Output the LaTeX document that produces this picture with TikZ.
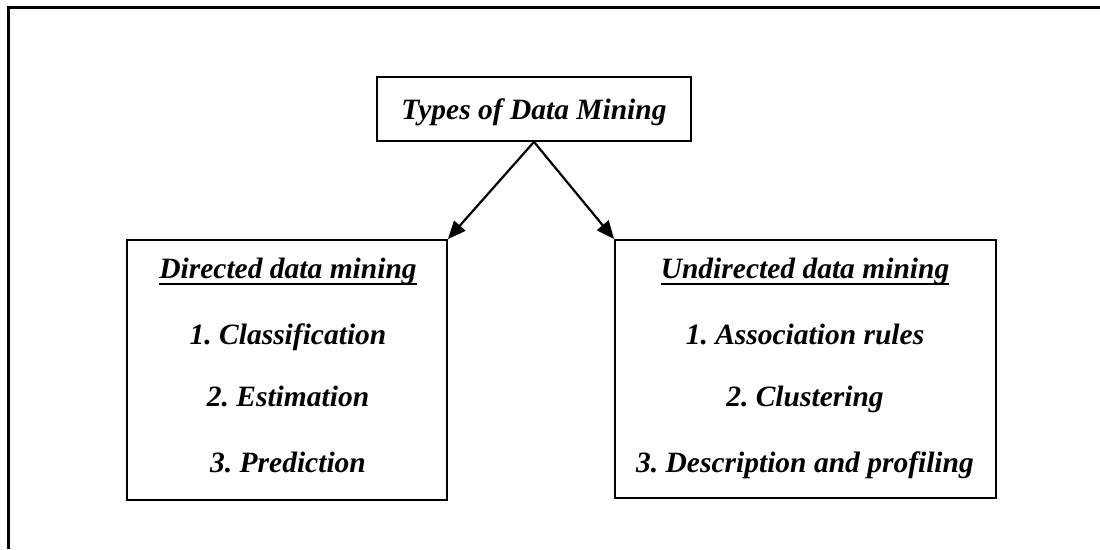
\documentclass[tikz,border=0pt]{standalone}
\usepackage{fontspec}
\setmainfont{Liberation Serif}
\usetikzlibrary{arrows.meta}
\frenchspacing
\tikzset{
  box/.style={draw, line width=1.8pt, minimum width=#1, inner sep=0pt},
  item/.style={anchor=base, inner sep=0pt, font=\fontsize{29.5}{32}\selectfont\bfseries\itshape},
  link/.style={line width=2.2pt, -{Triangle[length=18pt,width=15pt]}},
  uline/.style={line width=2pt}
}
\begin{document}
\begin{tikzpicture}[x=1pt,y=-1pt]
\useasboundingbox (0,0) rectangle (1100,549);
% frame of the page
\draw[line width=2.6pt] (8.5,549) -- (8.5,7.5) -- (1100,7.5);

% top box
\node[box=314pt, minimum height=64pt] (top) at (534,109) {};
\node[item] (ttl) at (534,119) {Types of Data Mining};

% left box
\node[box=320pt, minimum height=260pt] (left) at (287,370) {};
\node[item] (lh) at (288,278) {Directed data mining};
\node[item] (l1) at (288,344) {1. Classification};
\node[item] (l2) at (288,406) {2. Estimation};
\node[item] (l3) at (288,472) {3. Prediction};
\draw[uline] (lh.base west) ++(0,5.5) -- ([yshift=-5.5pt]lh.base east);

% right box
\node[box=381pt, minimum height=258pt] (right) at (805.5,369) {};
\node[item] (rh) at (805,278) {Undirected data mining};
\node[item] (r1) at (805,344) {1. Association rules};
\node[item] (r2) at (805,406) {2. Clustering};
\node[item] (r3) at (805,472) {3. Description and profiling};
\draw[uline] (rh.base west) ++(0,5.5) -- ([yshift=-5.5pt]rh.base east);

% connectors
\draw[link] (top.south) -- (left.north east);
\draw[link] (top.south) -- (right.north west);
\end{tikzpicture}
\end{document}
